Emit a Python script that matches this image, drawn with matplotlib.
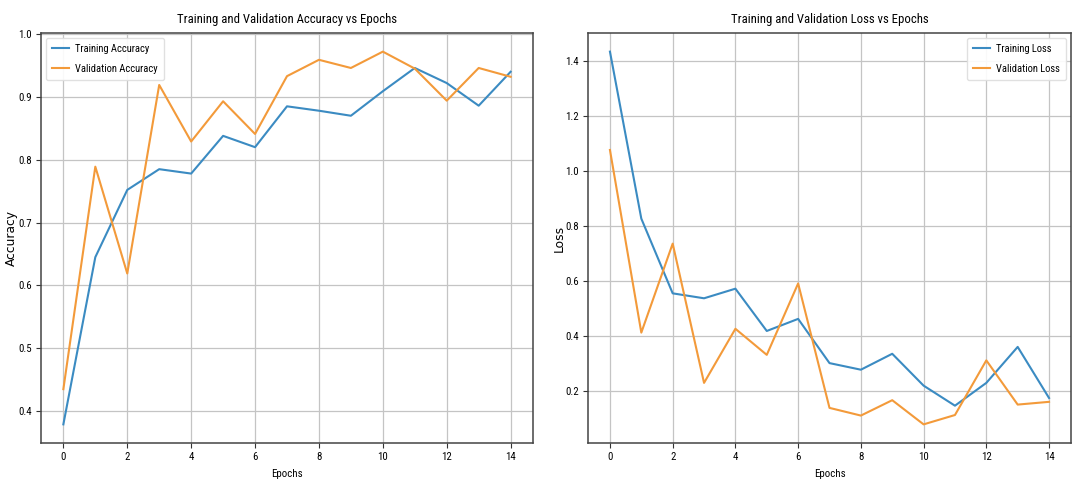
import matplotlib
matplotlib.use("Agg")
import matplotlib.pyplot as plt
from matplotlib import font_manager as fm

# Per-epoch training history
epochs = list(range(15))
train_acc = [0.379, 0.645, 0.752, 0.785, 0.778, 0.838, 0.820, 0.885, 0.878,
             0.870, 0.909, 0.946, 0.922, 0.886, 0.940]
val_acc = [0.435, 0.789, 0.619, 0.919, 0.829, 0.893, 0.841, 0.933, 0.959,
           0.946, 0.972, 0.945, 0.894, 0.946, 0.932]
train_loss = [1.434, 0.826, 0.554, 0.536, 0.571, 0.417, 0.461, 0.300, 0.276,
              0.334, 0.218, 0.145, 0.228, 0.359, 0.173]
val_loss = [1.076, 0.411, 0.735, 0.228, 0.425, 0.330, 0.590, 0.137, 0.109,
            0.165, 0.077, 0.111, 0.310, 0.149, 0.159]


def pick_font(candidates):
    for name in candidates:
        try:
            fm.findfont(fm.FontProperties(family=name), fallback_to_default=False)
            return name
        except Exception:
            continue
    return "DejaVu Sans"


narrow = pick_font(["Liberation Sans Narrow", "DejaVu Sans Condensed", "Roboto Condensed"])
plt.rcParams["font.family"] = [narrow, "DejaVu Sans"]

W, H = 1083, 483
fig = plt.figure(figsize=(W / 100, H / 100), dpi=100)
ax1 = fig.add_axes([41 / W, 1 - 443 / H, 492 / W, 410 / H])
ax2 = fig.add_axes([588 / W, 1 - 443 / H, 483 / W, 410 / H])

panels = [
    (ax1, train_acc, val_acc, "Training Accuracy", "Validation Accuracy",
     "Accuracy", "Training and Validation Accuracy vs Epochs", "upper left",
     (18 - 41) / 492),
    (ax2, train_loss, val_loss, "Training Loss", "Validation Loss",
     "Loss", "Training and Validation Loss vs Epochs", "upper right",
     (566 - 588) / 483),
]

for ax, tr, va, lt, lv, ylab, title, loc, ylx in panels:
    ax.plot(epochs, tr, color="#3b8bc2", lw=1.5, label=lt)
    ax.plot(epochs, va, color="#f39a3a", lw=1.5, label=lv)
    ax.set_title(title, fontsize=9.2, pad=7)
    ax.set_xlabel("Epochs", fontsize=7.8, labelpad=5)
    ax.set_ylabel(ylab, fontsize=8.8, family="DejaVu Sans")
    ax.yaxis.set_label_coords(ylx, 0.5)
    ax.set_xticks(range(0, 15, 2))
    ax.tick_params(labelsize=7.8, length=3.5, color="#333333", pad=3)
    ax.grid(True, color="#c4c4c4", lw=0.9)
    for sp in ax.spines.values():
        sp.set_color("#444444")
        sp.set_linewidth(1.1)
    leg = ax.legend(loc=loc, fontsize=7.6, framealpha=0.9, borderpad=0.55,
                    handlelength=1.6, handletextpad=0.6, labelspacing=0.95,
                    borderaxespad=0.5)
    leg.get_frame().set_edgecolor("#dddddd")

fig.savefig("out.png", dpi=100)
